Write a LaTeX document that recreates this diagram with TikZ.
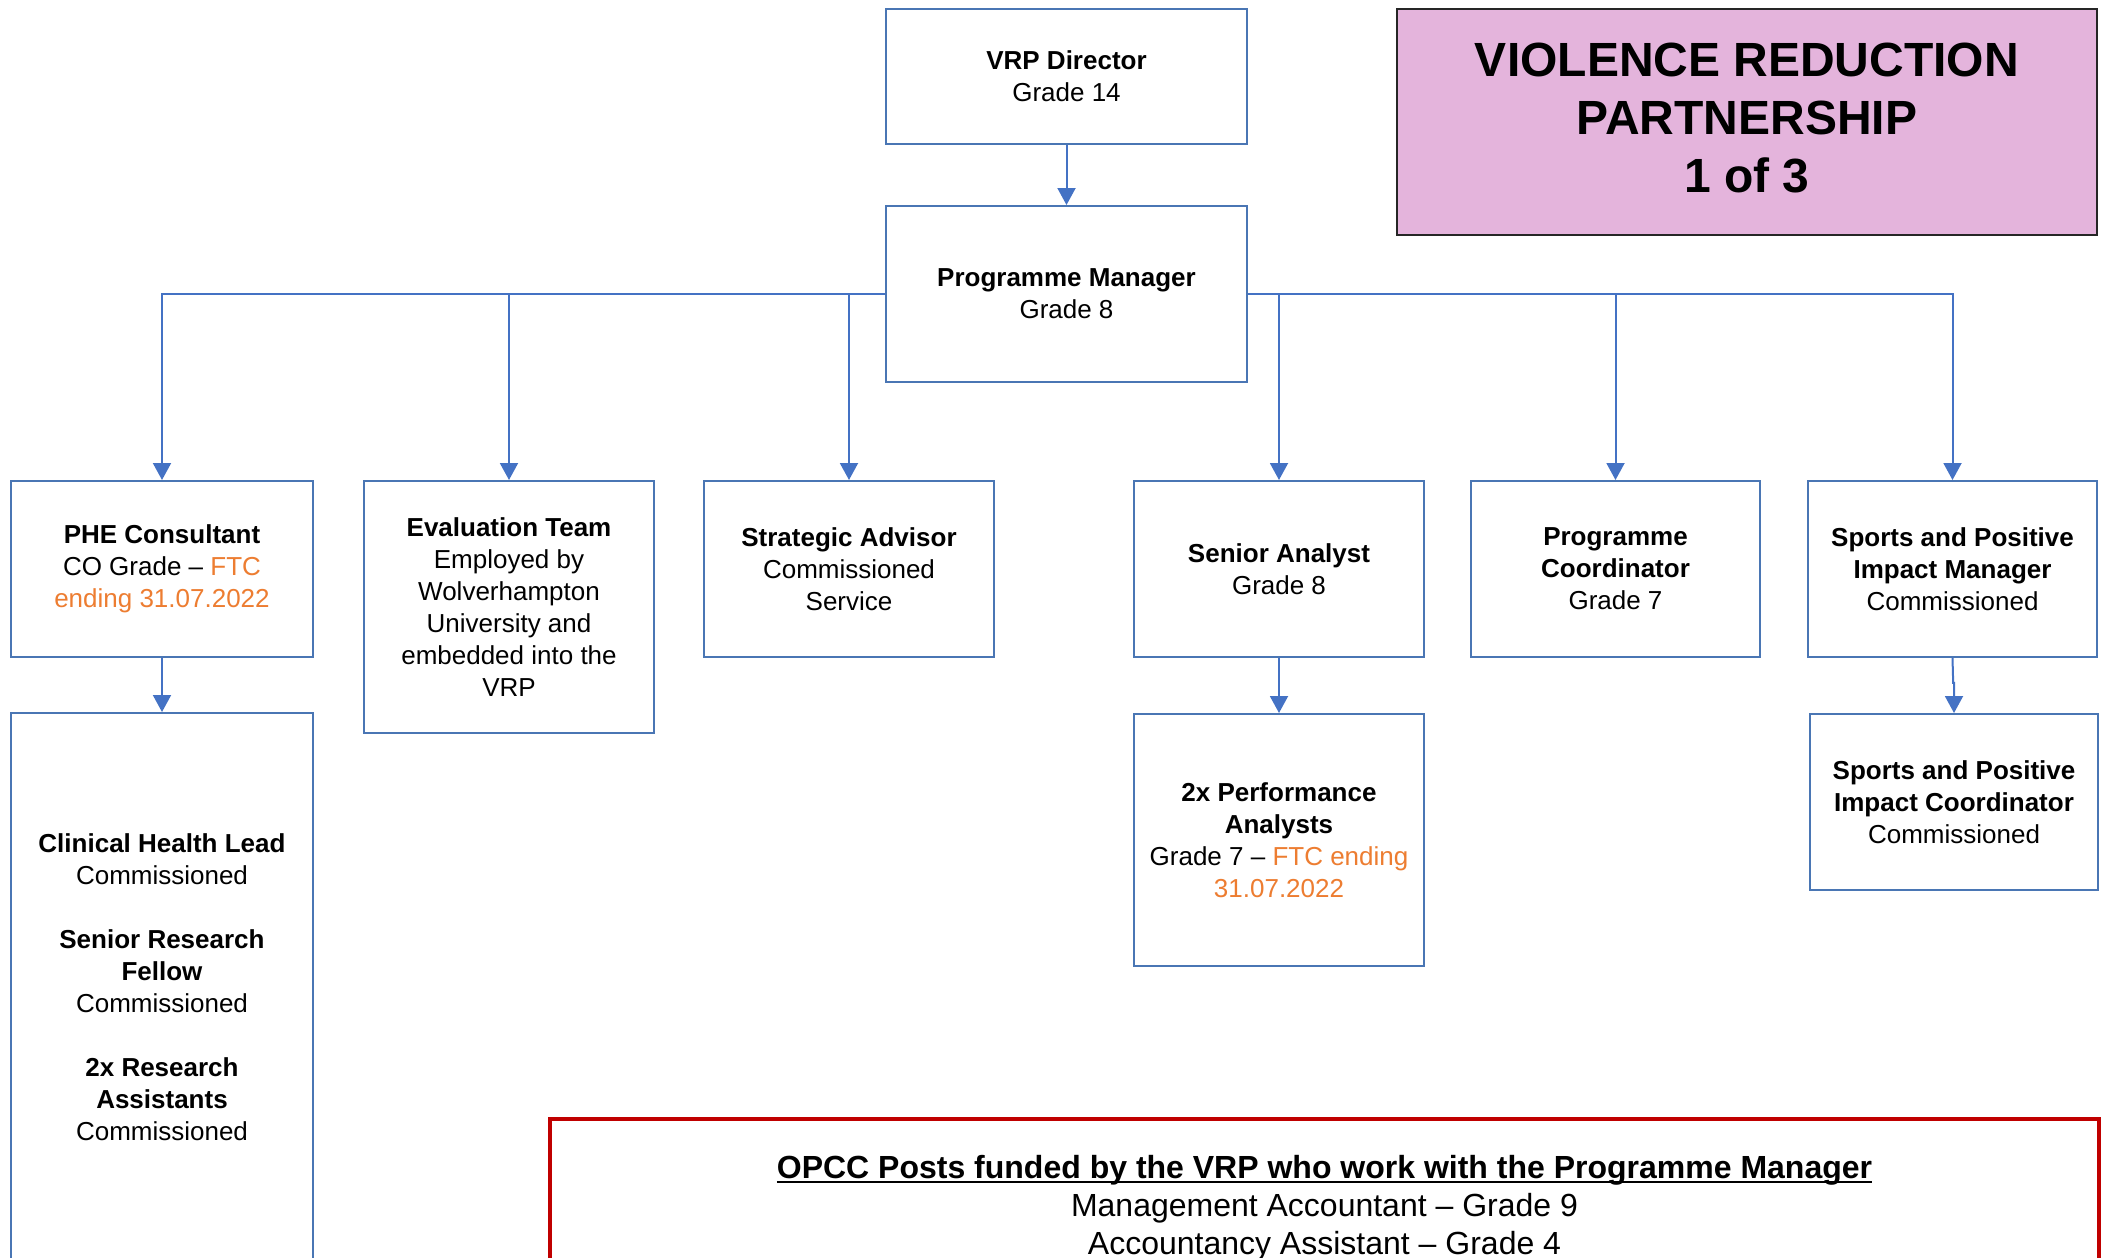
\documentclass[tikz,border=0pt]{standalone}
\usepackage{fontspec}
\setmainfont{Liberation Sans}
\usetikzlibrary{arrows.meta,calc}
\definecolor{boxblue}{HTML}{4A76B4}
\definecolor{lineblue}{HTML}{4472C4}
\definecolor{ftc}{HTML}{ED7D31}
\definecolor{titlepink}{HTML}{E4B4DC}
\definecolor{opccred}{HTML}{C00000}
\newsavebox\ulbox
\newcommand{\myul}[1]{\sbox\ulbox{#1}\rlap{\rule[-2.6pt]{\wd\ulbox}{1.1pt}}\usebox\ulbox}
\tikzset{
  box/.style={draw=boxblue, line width=1pt, fill=white, align=center,
    font=\fontsize{13}{16}\selectfont, inner sep=2pt},
  conn/.style={draw=lineblue, line width=1pt, -{Triangle[length=8.5pt,width=9pt]}},
  titlebox/.style={draw=black!85, line width=0.7pt, fill=titlepink},
  titletext/.style={align=center, inner sep=0pt,
    font=\fontsize{24}{29}\selectfont\bfseries},
  redframe/.style={draw=opccred, line width=1.6pt},
  opcctext/.style={align=center, font=\fontsize{16}{19}\selectfont, inner sep=0pt}
}
\begin{document}
\begin{tikzpicture}[x=0.5pt,y=-0.5pt]
\useasboundingbox (0,0) rectangle (2105,1258);
\clip (0,0) rectangle (2105,1258);

% title
\node[titlebox, minimum width=350pt, minimum height=113pt] (title) at (1747,122) {};
\node[titletext] (titlet) at (1747,118.5)
  {VIOLENCE REDUCTION\\PARTNERSHIP\\1 of 3};

% top
\node[box, minimum width=180.5pt, minimum height=67.5pt] (dir) at (1066.5,76.5)
  {\textbf{VRP Director}\\Grade 14};
\node[box, minimum width=180.5pt, minimum height=88pt] (pm) at (1066.5,294)
  {\textbf{Programme Manager}\\Grade 8};

% second row
\node[box, minimum width=151pt, minimum height=88pt] (phe) at (162,569)
  {\textbf{PHE Consultant}\\CO Grade -- \textcolor{ftc}{FTC}\\\textcolor{ftc}{ending 31.07.2022}};
\node[box, minimum width=145pt, minimum height=126pt] (eval) at (509,607)
  {\textbf{Evaluation Team}\\Employed by\\Wolverhampton\\University and\\embedded into the\\VRP};
\node[box, minimum width=145pt, minimum height=88pt] (strat) at (849,569)
  {\textbf{Strategic Advisor}\\Commissioned\\Service};
\node[box, minimum width=145pt, minimum height=88pt] (sa) at (1279,569)
  {\textbf{Senior Analyst}\\Grade 8};
\node[box, minimum width=144.5pt, minimum height=88pt] (pc) at (1615.5,569)
  {\textbf{Programme}\\\textbf{Coordinator}\\Grade 7};
\node[box, minimum width=144.5pt, minimum height=88pt] (spm) at (1952.5,569)
  {\textbf{Sports and Positive}\\\textbf{Impact Manager}\\Commissioned};

% third row
\node[box, minimum width=151pt, minimum height=274.5pt] (low) at (162,987.5)
  {\textbf{Clinical Health Lead}\\Commissioned\\[16pt]
   \textbf{Senior Research}\\\textbf{Fellow}\\Commissioned\\[16pt]
   \textbf{2x Research}\\\textbf{Assistants}\\Commissioned};
\node[box, minimum width=145pt, minimum height=126pt] (perf) at (1279,840)
  {\textbf{2x Performance}\\\textbf{Analysts}\\Grade 7 -- \textcolor{ftc}{FTC ending}\\\textcolor{ftc}{31.07.2022}};
\node[box, minimum width=144pt, minimum height=88pt] (spc) at (1954,802)
  {\textbf{Sports and Positive}\\\textbf{Impact Coordinator}\\Commissioned};

% connectors
\draw[conn] (dir.south) -- (pm.north);
\draw[conn] (pm.west) -| (phe.north);
\draw[conn] (pm.west) -| (eval.north);
\draw[conn] (pm.west) -| (strat.north);
\draw[conn] (pm.east) -| (sa.north);
\draw[conn] (pm.east) -| (pc.north);
\draw[conn] (pm.east) -| (spm.north);
\draw[conn] (phe.south) -- (low.north);
\draw[conn] (sa.south) -- (perf.north);
\coordinate (jog) at ($(spm.south)!0.45!(spc.north)$);
\draw[conn] (spm.south) -- (jog) -| (spc.north);

% OPCC box
\draw[redframe] (550,1119) rectangle (2099,1320);
\node[opcctext] (opcc) at (1324.5,1208)
  {\textbf{\myul{OPCC Posts funded by the VRP who work with the Programme Manager}}\\
   Management Accountant -- Grade 9\\
   Accountancy Assistant -- Grade 4};
\end{tikzpicture}
\end{document}
